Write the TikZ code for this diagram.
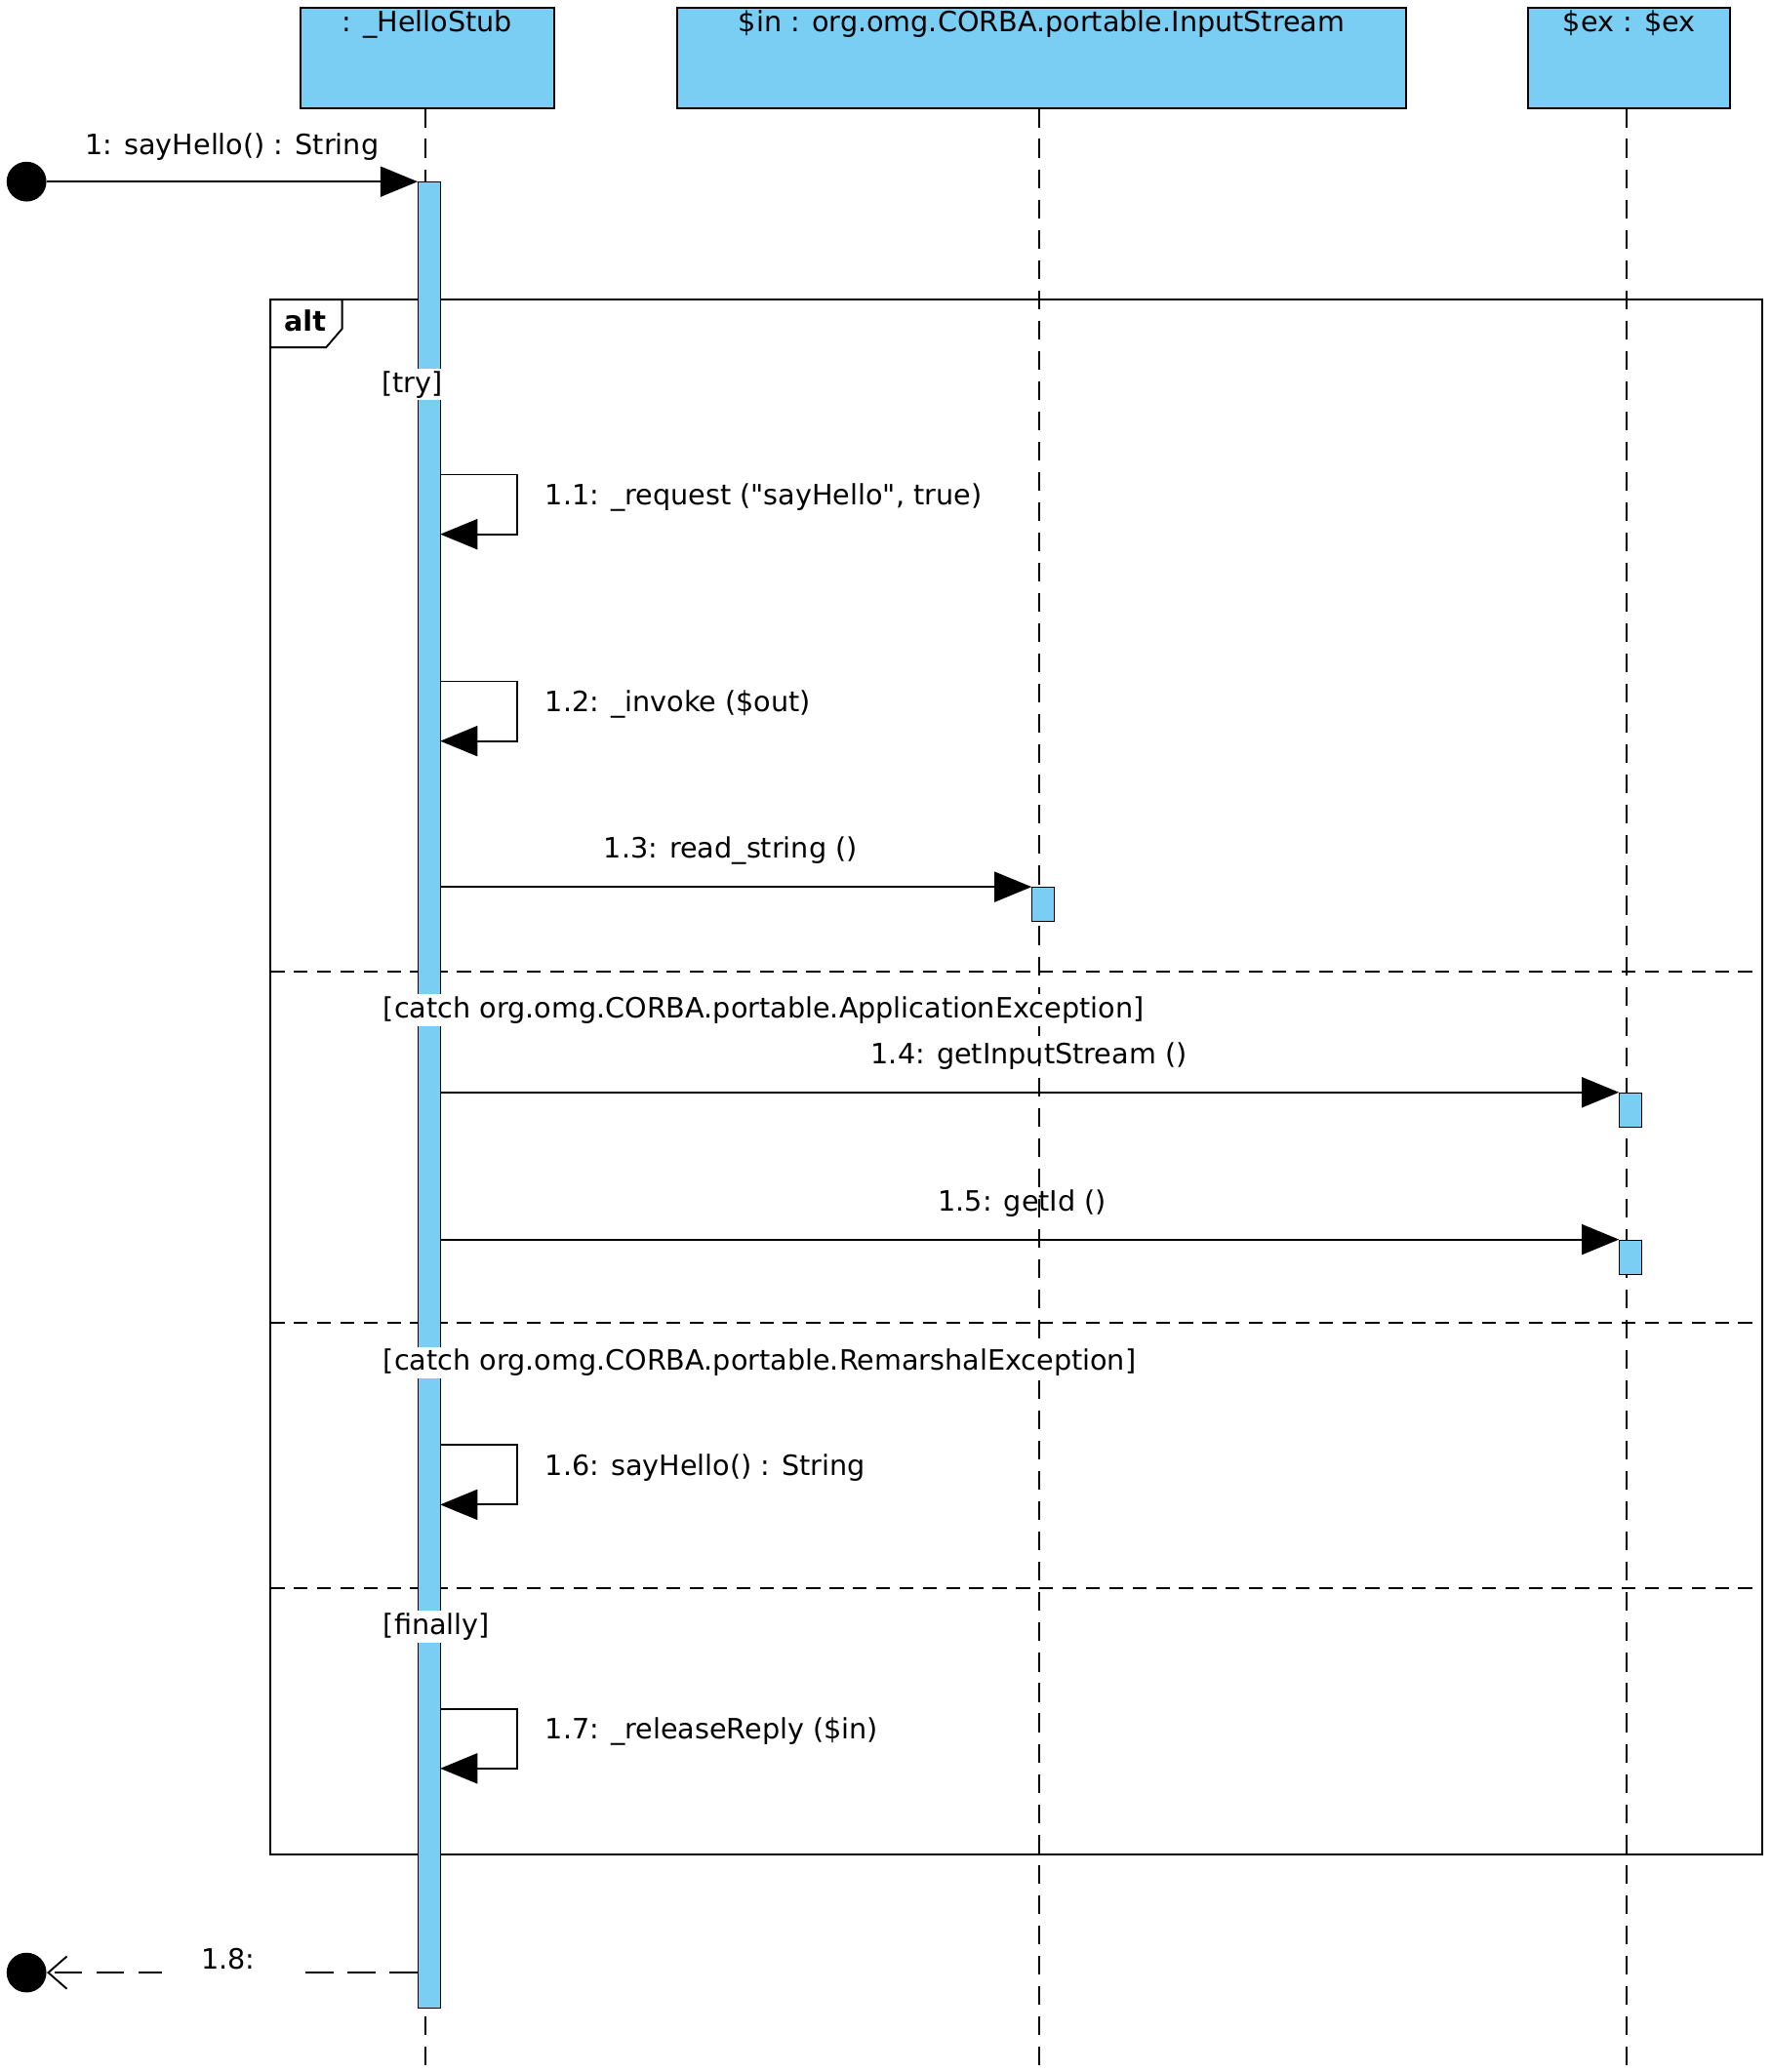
\documentclass[tikz,border=0pt]{standalone}
\usepackage{fontspec}
\setmainfont{DejaVu Sans}
\usetikzlibrary{arrows.meta}
\definecolor{umlblue}{RGB}{122,206,244}

\begin{document}
\begin{tikzpicture}[x=0.02cm,y=-0.02cm,font=\fontsize{12}{14}\selectfont,
    head/.style={draw,thick,fill=umlblue,anchor=north west,inner sep=0pt},
    act/.style={draw,fill=umlblue,anchor=north west,minimum width=0.34cm,inner sep=0pt},
    life/.style={thick,dashed,dash pattern=on 8pt off 5pt},
    msg/.style={thick,-{Triangle[length=16pt,width=13pt]}},
    divider/.style={thick,dash pattern=on 6pt off 4pt}]
    \useasboundingbox (0,0) rectangle (1335,1563);

    % lifeline heads
    \node[head,minimum width=3.82cm,minimum height=1.52cm] (stub) at (226,5) {};
    \node[anchor=north,yshift=2pt] at (stub.north) {: \_HelloStub};
    \node[head,minimum width=11.0cm,minimum height=1.52cm] (in) at (510,5) {};
    \node[anchor=north,yshift=2pt] at (in.north) {\$in : org.omg.CORBA.portable.InputStream};
    \node[head,minimum width=3.04cm,minimum height=1.52cm] (ex) at (1152,5) {};
    \node[anchor=north,yshift=2pt] at (ex.north) {\$ex : \$ex};

    \draw[life] (321,82) -- (321,1563);
    \draw[life] (784,82) -- (784,1563);
    \draw[life] (1227,82) -- (1227,1563);

    % alt frame
    \draw[thick] (204,226) rectangle (1329,1399);
    \draw[thick,fill=white] (204,226) -- (258,226) -- (258,248) -- (246,262) -- (204,262) -- cycle;
    \node[font=\fontsize{12}{14}\selectfont\bfseries] at (230,242) {alt};
    \draw[divider] (204,733) -- (1329,733);
    \draw[divider] (204,998) -- (1329,998);
    \draw[divider] (204,1198) -- (1329,1198);

    % activations
    \node[act,minimum height=27.56cm] (a0) at (315,137) {};
    \node[act,minimum height=0.52cm] (a3) at (778,669) {};
    \node[act,minimum height=0.52cm] (a4) at (1221,824) {};
    \node[act,minimum height=0.52cm] (a5) at (1221,935) {};

    \node[fill=white,inner sep=1pt] at (311,290) {[try]};
    \node[fill=white,inner sep=1pt,anchor=west] at (287,762) {[catch org.omg.CORBA.portable.ApplicationException]};
    \node[fill=white,inner sep=1pt,anchor=west] at (287,1028) {[catch org.omg.CORBA.portable.RemarshalException]};
    \node[fill=white,inner sep=1pt,anchor=west] at (287,1227) {[finally]};

    % found message
    \node[circle,fill,minimum size=0.6cm,inner sep=0pt] (start) at (20,137) {};
    \draw[msg] (start) -- (a0.north west);
    \node at (175,111) {1: sayHello() : String};

    % self calls
    \foreach \y/\txt in {358/{1.1: \_request (\textquotedbl sayHello\textquotedbl, true)},514/{1.2: \_invoke (\$out)},1090/{1.6: sayHello() : String},1289/{1.7: \_releaseReply (\$in)}}{
        \coordinate (s) at (332,\y);
        \coordinate (e) at (332,\y+45);
        \draw[msg] (s) -- (390,\y) -- (390,\y+45) -- (e);
        \node[anchor=west] at (405,\y+17) {\txt};
    }

    % calls
    \coordinate (c3) at (332,669);
    \draw[msg] (c3) -- (a3.north west);
    \node at (551,642) {1.3: read\_string ()};
    \coordinate (c4) at (332,824);
    \draw[msg] (c4) -- (a4.north west);
    \node at (776,797) {1.4: getInputStream ()};
    \coordinate (c5) at (332,935);
    \draw[msg] (c5) -- (a5.north west);
    \node at (771,908) {1.5: getId ()};

    % reply
    \node[circle,fill,minimum size=0.6cm,inner sep=0pt] (stop) at (20,1488) {};
    \coordinate (r) at (315,1488);
    \draw[thick,dash pattern=on 12pt off 6pt,-{Straight Barb[length=8pt,width=14pt]}] (r) -- (stop);
    \node[fill=white,minimum width=2cm] at (172,1478) {1.8:};
\end{tikzpicture}
\end{document}
